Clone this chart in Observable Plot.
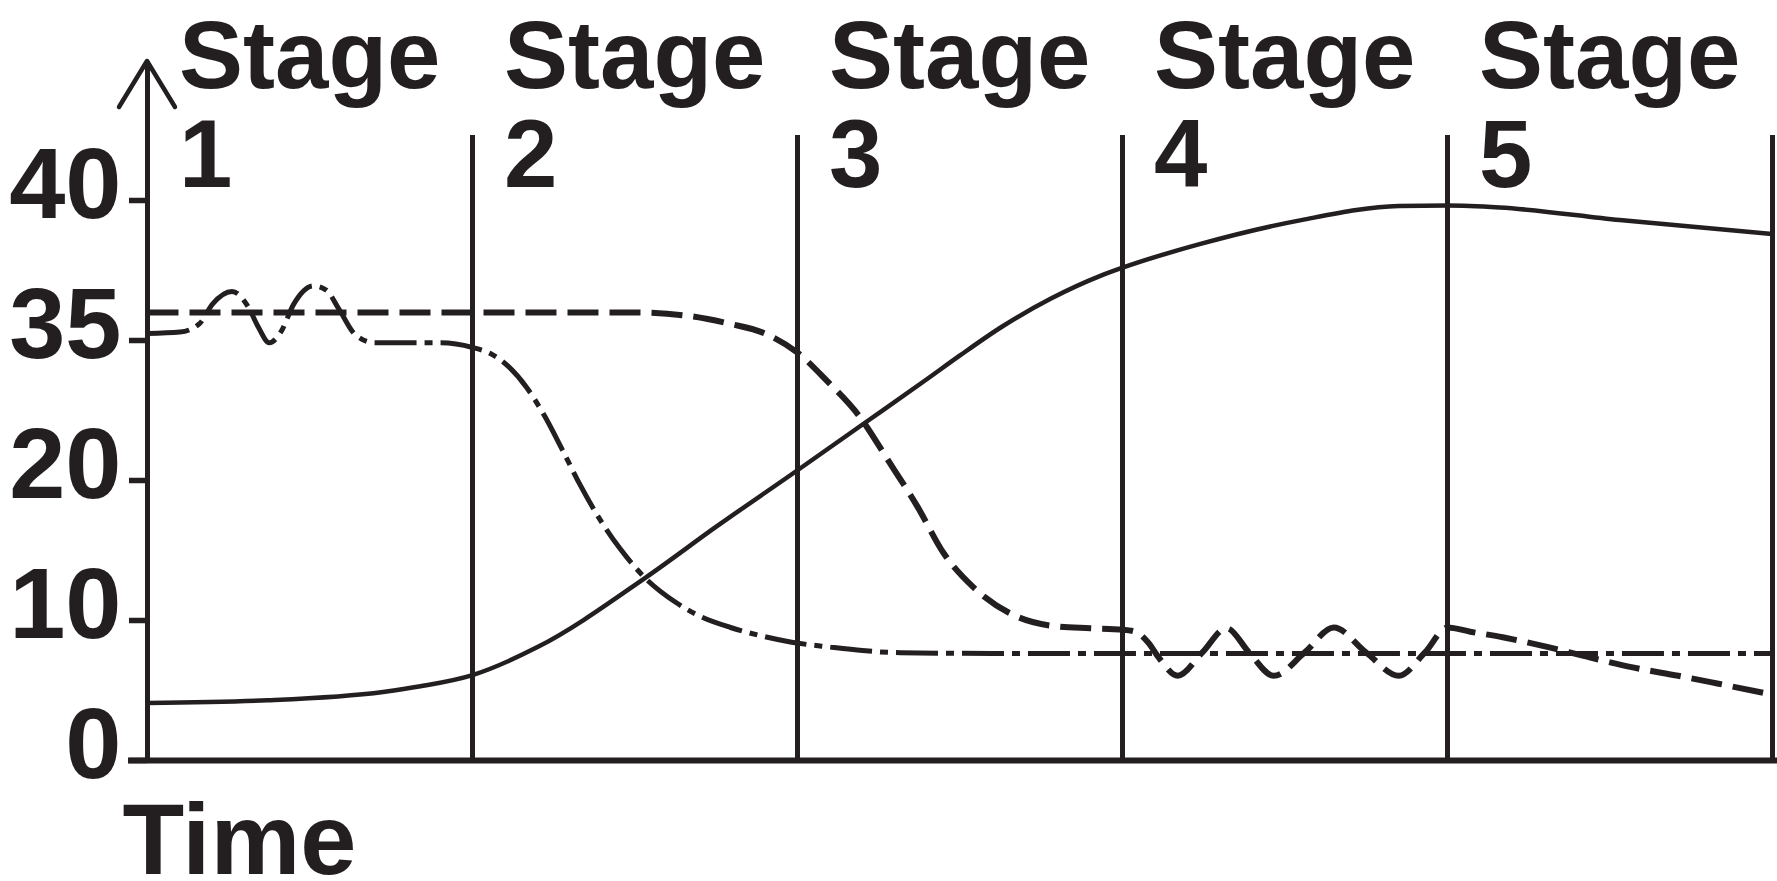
<!DOCTYPE html>
<html><head><meta charset="utf-8">
<script src="https://cdn.jsdelivr.net/npm/d3@7"></script>
<script src="https://cdn.jsdelivr.net/npm/@observablehq/plot@0.6"></script>
<style>html,body{margin:0;padding:0;background:#fff;} svg{display:block}</style>
</head><body><div id="chart"></div>
<script>
// ---- data ----
const stageNames = ["1", "2", "3", "4", "5"];
const stageBounds = [1, 2, 3, 4, 5];
const yTicks = [0, 10, 20, 35, 40];

// total population (solid)
const popX = [0, 0.37, 0.725, 0.84, 1.0, 1.2, 1.535, 1.75, 2.0, 2.2, 2.4, 2.5, 2.63, 2.78, 2.93, 3.0, 3.24, 3.55, 3.85, 4.0, 4.16, 4.53, 5.0];
const popV = [4.1, 4.3, 4.9, 5.3, 6.1, 8.1, 13.1, 16.7, 21.1, 26.0, 30.9, 33.4, 35.5, 36.5, 37.3, 37.6, 38.45, 39.3, 39.8, 39.82, 39.75, 39.3, 38.8];

// birth rate (dashed)
const birthX = [0, 1.5, 1.65, 1.79, 1.9, 2.0, 2.09, 2.19, 2.28, 2.37, 2.45, 2.54, 2.655, 2.79, 2.9, 3.0, 3.04, 3.08, 3.11, 3.17, 3.245, 3.32, 3.39, 3.465, 3.56, 3.65, 3.75, 3.85, 3.93, 4.0, 4.07, 4.17, 4.31, 4.44, 4.57, 4.71, 4.83, 5.0];
const birthV = [36.0, 36.0, 35.9, 35.6, 35.25, 33.7, 30.7, 26.9, 22.1, 18.1, 14.8, 12.4, 10.5, 9.6, 9.45, 9.35, 9.2, 8.4, 7.4, 6.05, 7.7, 9.45, 7.7, 6.05, 7.7, 9.5, 7.7, 6.05, 7.7, 9.5, 9.2, 8.8, 8.1, 7.35, 6.65, 6.05, 5.5, 4.7];

// death rate (dash-dot)
const deathX = [0, 0.1, 0.16, 0.2, 0.26, 0.31, 0.34, 0.375, 0.41, 0.45, 0.51, 0.55, 0.59, 0.64, 0.70, 0.9, 1.0, 1.055, 1.111, 1.166, 1.222, 1.277, 1.332, 1.394, 1.455, 1.535, 1.625, 1.70, 1.794, 1.889, 1.982, 2.1, 2.2, 2.317, 2.6, 5.0];
const deathV = [35.25, 35.3, 35.6, 36.3, 36.75, 36.2, 35.5, 34.75, 35.3, 36.3, 36.95, 36.8, 36.1, 35.2, 34.75, 34.75, 34.25, 33.6, 32.2, 30.0, 26.9, 23.25, 19.65, 17.15, 15.1, 12.95, 11.3, 10.3, 9.5, 8.9, 8.45, 8.1, 7.85, 7.7, 7.65, 7.65];

// ---- chart ----
const ink = "#231f20";

function arrowHead(index, scales, values, dimensions) {
  const x0 = scales.x(0), yt = dimensions.marginTop;
  return d3.create("svg:path")
    .attr("d", `M${x0 - 28},${yt + 46}L${x0},${yt}L${x0 + 28},${yt + 46}`)
    .attr("fill", "none").attr("stroke", ink).attr("stroke-width", 4.5)
    .attr("stroke-linecap", "round").attr("stroke-linejoin", "round").node();
}

const chart = Plot.plot({
  width: 1777, height: 881,
  marginTop: 61, marginBottom: 121, marginLeft: 147, marginRight: 5,
  style: {fontFamily: "'Liberation Sans', Arial, sans-serif", color: ink, background: "#fff", overflow: "visible"},
  x: {type: "linear", domain: [0, 5], axis: null, label: null},
  // piecewise linear scale: breakpoints spread evenly over the frame
  y: {type: "linear", domain: yTicks, insetTop: 139, label: null},
  marks: [
    Plot.ruleX(stageBounds, {stroke: ink, strokeWidth: 5, insetTop: 74}),
    Plot.ruleX([0], {stroke: ink, strokeWidth: 5}),
    arrowHead,
    Plot.ruleY([0], {stroke: ink, strokeWidth: 6, insetLeft: -19, insetRight: -5}),
    Plot.axisY({ticks: yTicks, tickSize: 18, stroke: ink, strokeWidth: 5.5, fill: "none"}),
    Plot.axisY({ticks: yTicks, tickSize: 18, tickPadding: 8, stroke: "none", fill: ink,
      fontSize: 101, fontWeight: "bold", dy: -15, tickFormat: d => String(d)}),
    Plot.line(popX, {x: popX, y: popV, stroke: ink, strokeWidth: 4.5, curve: "monotone-x", strokeLinejoin: "round"}),
    Plot.line(birthX, {x: birthX, y: birthV, stroke: ink, strokeWidth: 6, curve: "monotone-x",
      strokeDasharray: "31,11", strokeLinecap: "butt"}),
    Plot.line(deathX, {x: deathX, y: deathV, stroke: ink, strokeWidth: 5, curve: "monotone-x",
      strokeDasharray: "42,8,8,8", strokeLinecap: "butt"}),
    Plot.text(stageNames, {x: (d, i) => i + 0.5, text: d => `Stage\n${d}`, frameAnchor: "top",
      textAnchor: "start", lineAnchor: "bottom", lineHeight: 1.03, dx: -131, dy: 125,
      fontSize: 96, fontWeight: "bold", fill: ink}),
    Plot.text(["Time"], {frameAnchor: "bottom-left", textAnchor: "start", lineAnchor: "bottom",
      dx: -25, dy: 113, fontSize: 101, fontWeight: "bold", fill: ink})
  ]
});
document.getElementById("chart").appendChild(chart);
</script>
</body></html>
